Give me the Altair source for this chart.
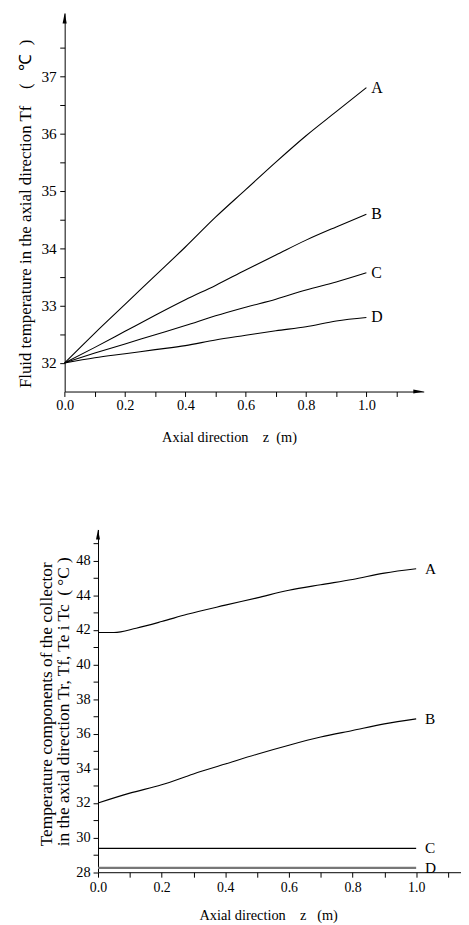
import altair as alt
import pandas as pd

FONT = "Liberation Serif"
NB = "\u00a0"

# ---------------- data: upper panel (fluid temperature Tf) ----------------
z_top = [0.0, 0.1, 0.2, 0.3, 0.4, 0.5, 0.6, 0.7, 0.8, 0.9, 1.0]
tf_A = [32.0, 32.52, 33.02, 33.52, 34.02, 34.54, 35.02, 35.5, 35.96, 36.38, 36.8]
tf_B = [32.0, 32.27, 32.55, 32.83, 33.1, 33.35, 33.62, 33.88, 34.14, 34.37, 34.59]
tf_C = [32.0, 32.17, 32.33, 32.49, 32.65, 32.82, 32.97, 33.11, 33.27, 33.41, 33.57]
tf_D = [32.0, 32.09, 32.16, 32.23, 32.3, 32.4, 32.48, 32.56, 32.63, 32.73, 32.79]
top_names = ["A", "B", "C", "D"]

# ---------------- data: lower panel (temperature components) ----------------
z_bot_A = [0.0, 0.05, 0.12, 0.2, 0.28, 0.4, 0.5, 0.6, 0.7, 0.8, 0.9, 1.0]
bot_A = [41.85, 41.85, 42.1, 42.48, 42.9, 43.43, 43.85, 44.29, 44.61, 44.91, 45.28, 45.53]
z_bot_B = [0.0, 0.1, 0.2, 0.3, 0.4, 0.5, 0.6, 0.7, 0.8, 0.9, 1.0]
bot_B = [32.0, 32.57, 33.05, 33.68, 34.25, 34.82, 35.34, 35.81, 36.19, 36.57, 36.86]
z_bot_flat = [0.0, 1.0]
bot_C = [29.38, 29.38]
bot_D = [28.25, 28.25]

# ---------------- ticks and tick labels ----------------
x_ticks = [0.0, 0.1, 0.2, 0.3, 0.4, 0.5, 0.6, 0.7, 0.8, 0.9, 1.0, 1.1]
x_label_values = [0.0, 0.2, 0.4, 0.6, 0.8, 1.0]
x_label_text = ["0.0", "0.2", "0.4", "0.6", "0.8", "1.0"]
top_y_ticks = [32, 32.5, 33, 33.5, 34, 34.5, 35, 35.5, 36, 36.5, 37, 37.5]
top_y_label_values = [32, 33, 34, 35, 36, 37]
top_y_label_text = ["32", "33", "34", "35", "36", "37"]
bot_y_ticks = [28, 29, 30, 31, 32, 33, 34, 35, 36, 37, 38, 39, 40, 41, 42, 43, 44, 45, 46, 47]
bot_y_label_values = [28, 30, 32, 34, 36, 38, 40, 42, 44, 46]
bot_y_label_text = ["28", "30", "32", "34", "36", "38", "40", "42", "44", "48"]

# ---------------- layout (pixels inside the chart) ----------------
W, H = 458, 917
TOP_X_DOMAIN, TOP_X_RANGE = [0, 1.19], [57.3, 420.3]
TOP_Y_DOMAIN, TOP_Y_RANGE = [31.5, 38.1], [382.7, 0.0]
BOT_X_DOMAIN, BOT_X_RANGE = [0, 1.14], [91.0, 457.7]
BOT_Y_DOMAIN, BOT_Y_RANGE = [28, 47.8], [868.7, 522.2]


def label_expr(values, texts):
    expr = "''"
    for v, t in reversed(list(zip(values, texts))):
        expr = f"abs(datum.value - ({v})) < 1e-6 ? '{t}' : ({expr})"
    return expr


def axis(orient, offset, ticks, lvals, ltext, title, tx, ty, talign, lsize, tsize,
         lpad, line_height=None):
    kw = dict(
        orient=orient, offset=offset, values=ticks,
        labelExpr=label_expr(lvals, ltext), labelFlush=False, labelOverlap=False,
        labelFont=FONT, labelFontSize=lsize, labelColor="black", labelPadding=lpad,
        tickSize=5, tickColor="black", tickWidth=1,
        domainColor="black", domainWidth=1, grid=False,
        title=title, titleFont=FONT, titleFontSize=tsize, titleFontWeight="normal",
        titleColor="black", titleX=tx, titleY=ty, titleAlign=talign,
        titleBaseline="middle",
        titleAngle=270 if orient == "left" else 0,
    )
    if line_height:
        kw["titleLineHeight"] = line_height
    return alt.Axis(**kw)


def scale(domain, rng):
    return alt.Scale(domain=domain, range=rng, zero=False, nice=False)


# ---------------- upper panel ----------------
top_df = pd.DataFrame({
    "z": z_top * 4,
    "T": tf_A + tf_B + tf_C + tf_D,
    "series": [n for n in top_names for _ in z_top],
})
top_end = top_df.groupby("series", as_index=False).last()

top_xaxis = axis("bottom", TOP_Y_RANGE[0] - H, x_ticks, x_label_values, x_label_text,
                 f"Axial direction{NB}{NB}{NB} z{NB}{NB}(m)", 223.5, 47, "center", 14.5, 14.5, 2)
top_yaxis = axis("left", -TOP_X_RANGE[0], top_y_ticks, top_y_label_values, top_y_label_text,
                 f"Fluid temperature in the axial direction Tf{NB}{NB}{NB}{NB}({NB}{NB}{NB}℃{NB}{NB})",
                 -39.3, 378.7, "left", 15.5, 17, 3.5)
tx = alt.X("z:Q", scale=scale(TOP_X_DOMAIN, TOP_X_RANGE), axis=top_xaxis)
ty = alt.Y("T:Q", scale=scale(TOP_Y_DOMAIN, TOP_Y_RANGE), axis=top_yaxis)

top_lines = alt.Chart(top_df).mark_line(
    color="black", strokeWidth=1.1, interpolate="monotone"
).encode(x=tx, y=ty, detail="series:N")
top_text = alt.Chart(top_end).mark_text(
    align="left", baseline="middle", dx=5, font=FONT, fontSize=16, color="black"
).encode(x=tx, y=ty, text="series:N")
top_up = alt.Chart(pd.DataFrame({"z": [TOP_X_DOMAIN[0]], "T": [TOP_Y_DOMAIN[1]]})).mark_point(
    shape="M0,0L-0.4,2L0.4,2Z", size=110, filled=True, color="black", opacity=1, strokeWidth=0
).encode(x=tx, y=ty)
top_right = alt.Chart(pd.DataFrame({"z": [TOP_X_DOMAIN[1]], "T": [TOP_Y_DOMAIN[0]]})).mark_point(
    shape="M0,0L-2,-0.4L-2,0.4Z", size=110, filled=True, color="black", opacity=1, strokeWidth=0
).encode(x=tx, y=ty)
top_panel = alt.layer(top_lines, top_text, top_up, top_right)

# ---------------- lower panel ----------------
bot_black = pd.DataFrame({
    "z": z_bot_A + z_bot_B + z_bot_flat,
    "T": bot_A + bot_B + bot_C,
    "series": ["A"] * len(z_bot_A) + ["B"] * len(z_bot_B) + ["C"] * len(z_bot_flat),
})
bot_gray = pd.DataFrame({"z": z_bot_flat, "T": bot_D, "series": ["D"] * len(z_bot_flat)})
bot_end = pd.concat([bot_black, bot_gray]).groupby("series", as_index=False).last()

bot_xaxis = axis("bottom", BOT_Y_RANGE[0] - H, x_ticks, x_label_values, x_label_text,
                 f"Axial direction{NB}{NB}{NB} z{NB}{NB}{NB}(m)", 263, 43.5, "center", 14, 14.5, 3)
bot_yaxis = axis("left", -BOT_X_RANGE[0], bot_y_ticks, bot_y_label_values, bot_y_label_text,
                 ["Temperature components of the collector",
                  f"in the axial direction Tr, Tf, Te i Tc{NB}{NB}({NB}°C{NB})"],
                 -52, 842, "left", 14.5, 17.5, 3, line_height=17)
bx = alt.X("z:Q", scale=scale(BOT_X_DOMAIN, BOT_X_RANGE), axis=bot_xaxis)
by = alt.Y("T:Q", scale=scale(BOT_Y_DOMAIN, BOT_Y_RANGE), axis=bot_yaxis)

bot_lines = alt.Chart(bot_black).mark_line(
    color="black", strokeWidth=1.1, interpolate="monotone"
).encode(x=bx, y=by, detail="series:N")
bot_dline = alt.Chart(bot_gray).mark_line(color="#777777", strokeWidth=2.2).encode(
    x=bx, y=by, detail="series:N")
bot_text = alt.Chart(bot_end).mark_text(
    align="left", baseline="middle", dx=9, font=FONT, fontSize=15.5, color="black"
).encode(x=bx, y=by, text="series:N")
bot_up = alt.Chart(pd.DataFrame({"z": [BOT_X_DOMAIN[0]], "T": [BOT_Y_DOMAIN[1]]})).mark_point(
    shape="M0,0L-0.4,2L0.4,2Z", size=100, filled=True, color="black", opacity=1, strokeWidth=0
).encode(x=bx, y=by)
bot_panel = alt.layer(bot_lines, bot_dline, bot_text, bot_up)

chart = alt.layer(top_panel, bot_panel).resolve_scale(
    x="independent", y="independent"
).properties(
    width=W, height=H, padding=0, autosize="none", background="white"
).configure_view(stroke=None)

chart.save("out.html", embed_options={"renderer": "svg", "actions": False})
